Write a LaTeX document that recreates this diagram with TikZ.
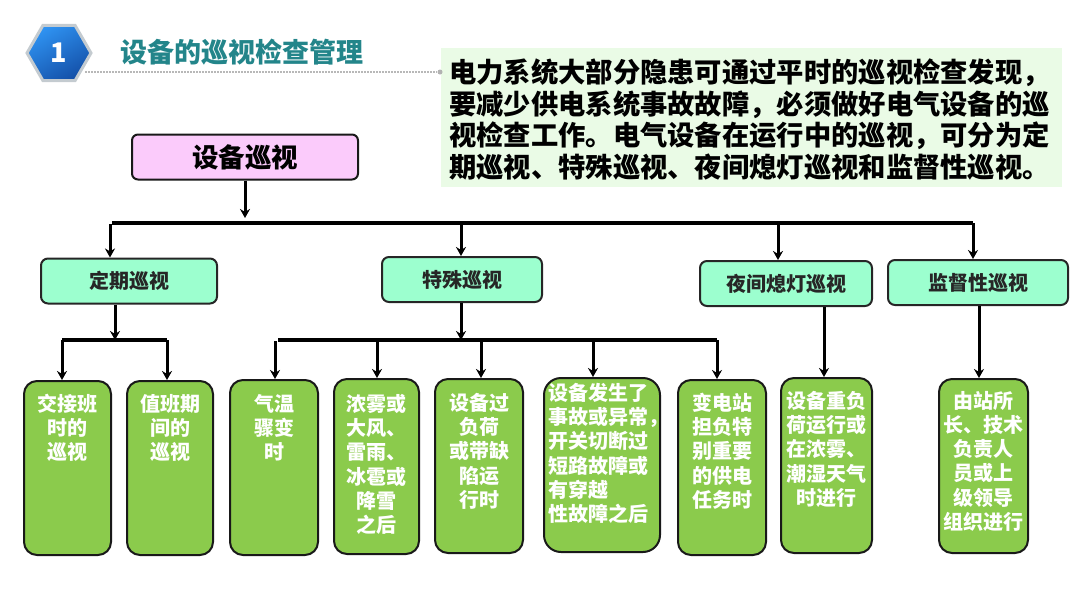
\documentclass[tikz,border=0pt]{standalone}
\usepackage{fontspec}
\setmainfont{Liberation Sans}
\newfontfamily\cjk{Noto Sans CJK SC}
\usetikzlibrary{arrows.meta,shapes.geometric}
\definecolor{titleteal}{HTML}{23858A}
\definecolor{toppink}{HTML}{FBCBFB}
\definecolor{midmint}{HTML}{9CFFCF}
\definecolor{leafgreen}{HTML}{8BCB4C}
\definecolor{notegreen}{HTML}{EAFBE6}
\definecolor{badgelight}{HTML}{2F93F2}
\definecolor{badgedark}{HTML}{1450A8}
\definecolor{badgerim}{HTML}{C4CBD0}
\tikzset{
  topbox/.style={draw=black!90,line width=2pt,rounded corners=6pt,fill=toppink,inner sep=0pt,
    minimum width=226pt,minimum height=45pt,font=\cjk\bfseries\fontsize{26.5}{30}\selectfont},
  midbox/.style={draw=black!85,line width=2pt,rounded corners=7pt,fill=midmint,inner sep=0pt,
    minimum height=45pt,text=black!85,font=\cjk\bfseries\fontsize{20}{24}\selectfont},
  leafbox/.style={draw=black!90,line width=2pt,rounded corners=13pt,fill=leafgreen,inner sep=0pt},
  leaftext/.style={inner sep=0pt,text=white,align=center,font=\cjk\bfseries\fontsize{20}{24.2}\selectfont},
  busline/.style={line width=3.6pt},
  droparrow/.style={line width=3pt,-{Stealth[length=9pt,width=10pt]}},
}
\begin{document}
\begin{tikzpicture}[x=1pt,y=-1pt]
\useasboundingbox (0,0) rectangle (1080,608);
% Header
\node[regular polygon,regular polygon sides=6,minimum size=64pt,inner sep=0pt,draw=badgerim,line width=3pt,
  top color=badgelight,bottom color=badgedark,shading angle=30,text=white,
  font=\cjk\bfseries\fontsize{27}{30}\selectfont] (badge) at (59,53) {1};
\node[anchor=west,inner sep=0pt,text=titleteal,font=\cjk\bfseries\fontsize{27}{30}\selectfont] (title) at (120,52) {设备的巡视检查管理};
\node[anchor=west,fill=notegreen,inner sep=0pt,minimum width=621pt,minimum height=139pt] (note) at (441,117.5) {};
\node[anchor=north west,inner sep=0pt,align=left,font=\cjk\bfseries\fontsize{27.3}{31.7}\selectfont] (notetext) at (449,58.5)
  {电力系统大部分隐患可通过平时的巡视检查发现，\\要减少供电系统事故故障，必须做好电气设备的巡\\视检查工作。电气设备在运行中的巡视，可分为定\\期巡视、特殊巡视、夜间熄灯巡视和监督性巡视。};
\node[circle,fill=black!30,inner sep=0pt,minimum size=5pt] (dotend) at (440,72) {};
\coordinate (dotstart) at (85,72);
\draw[black!28,line width=1.5pt,dash pattern=on 1.5pt off 1.5pt] (dotstart) -- (dotend);
% Upper levels
\node[topbox] (patrol) at (245,157) {设备巡视};
\node[midbox,minimum width=176pt] (regular) at (129,281) {定期巡视};
\node[midbox,minimum width=160pt] (special) at (462,279.5) {特殊巡视};
\node[midbox,minimum width=172pt] (night) at (786,283.5) {夜间熄灯巡视};
\node[midbox,minimum width=180pt] (supervise) at (978,282.5) {监督性巡视};
% Bottom boxes
\node[leafbox,minimum width=87pt,minimum height=174pt] (handover) at (67.5,468) {};
\node[leafbox,minimum width=86pt,minimum height=174pt] (onduty) at (170,468) {};
\node[leafbox,minimum width=88pt,minimum height=175pt] (weather) at (274,467.5) {};
\node[leafbox,minimum width=85pt,minimum height=175pt] (storm) at (376.5,466.5) {};
\node[leafbox,minimum width=88pt,minimum height=174pt] (overload) at (479,466) {};
\node[leafbox,rounded corners=17pt,minimum width=116pt,minimum height=174pt] (fault) at (602,465) {};
\node[leafbox,minimum width=88pt,minimum height=175pt] (mission) at (722,467.5) {};
\node[leafbox,minimum width=91pt,minimum height=175pt] (heavy) at (826.5,465.5) {};
\node[leafbox,minimum width=89pt,minimum height=174pt] (leader) at (983.5,466) {};
\node[leaftext,anchor=north] (handovertext) at (67.5,394) {交接班\\时的\\巡视};
\node[leaftext,anchor=north] (ondutytext) at (170,394) {值班期\\间的\\巡视};
\node[leaftext,anchor=north] (weathertext) at (274,394) {气温\\骤变\\时};
\node[leaftext,anchor=north] (stormtext) at (376.5,394) {浓雾或\\大风、\\雷雨、\\冰雹或\\降雪\\之后};
\node[leaftext,anchor=north] (overloadtext) at (479,393) {设备过\\负荷\\或带缺\\陷运\\行时};
\node[leaftext,anchor=north west,align=left] (faulttext) at (548,383) {设备发生了\\事故或异常，\\开关切断过\\短路故障或\\有穿越\\性故障之后};
\node[leaftext,anchor=north] (missiontext) at (722,393) {变电站\\担负特\\别重要\\的供电\\任务时};
\node[leaftext,anchor=north] (heavytext) at (826.5,391) {设备重负\\荷运行或\\在浓雾、\\潮湿天气\\时进行};
\node[leaftext,anchor=north] (leadertext) at (983.5,391) {由站所\\长、技术\\负责人\\员或上\\级领导\\组织进行};
% Connectors
\coordinate (busmain) at (245,218);
\coordinate (busmainl) at (112,223);
\coordinate (dropmainl) at (110,224);
\coordinate (busmains) at (461,223);
\coordinate (busmainn) at (778,223);
\coordinate (busmainr) at (973,223);
\draw[droparrow] (patrol.south) -- (busmain);
\draw[busline] (busmainl) -- (busmainr);
\draw[droparrow] (dropmainl) -- (regular.north -| dropmainl);
\draw[droparrow] (busmains) -- (special.north -| busmains);
\draw[droparrow] (busmainn) -- (night.north -| busmainn);
\draw[droparrow] (busmainr) -- (supervise.north -| busmainr);
\coordinate (busreg) at (115,340);
\coordinate (busregl) at (62,340);
\coordinate (busregr) at (167,340);
\draw[droparrow] (regular.south -| busreg) -- (busreg);
\draw[busline] (busregl) -- (busregr);
\draw[droparrow] (busregl) -- (handover.north -| busregl);
\draw[droparrow] (busregr) -- (onduty.north -| busregr);
\coordinate (busspec) at (461,340);
\coordinate (busspecl) at (278,340);
\coordinate (dropspecl) at (275,341);
\coordinate (busspecb) at (377,340);
\coordinate (busspecc) at (481,340);
\coordinate (busspecd) at (593,340);
\coordinate (busspecr) at (717,340);
\draw[droparrow] (special.south -| busspec) -- (busspec);
\draw[busline] (busspecl) -- (busspecr);
\draw[droparrow] (dropspecl) -- (weather.north -| dropspecl);
\draw[droparrow] (busspecb) -- (storm.north -| busspecb);
\draw[droparrow] (busspecc) -- (overload.north -| busspecc);
\draw[droparrow] (busspecd) -- (fault.north -| busspecd);
\draw[droparrow] (busspecr) -- (mission.north -| busspecr);
\coordinate (nightx) at (824,306);
\coordinate (supx) at (979,307);
\draw[droparrow] (night.south -| nightx) -- (heavy.north -| nightx);
\draw[droparrow] (supervise.south -| supx) -- (leader.north -| supx);
\end{tikzpicture}
\end{document}
